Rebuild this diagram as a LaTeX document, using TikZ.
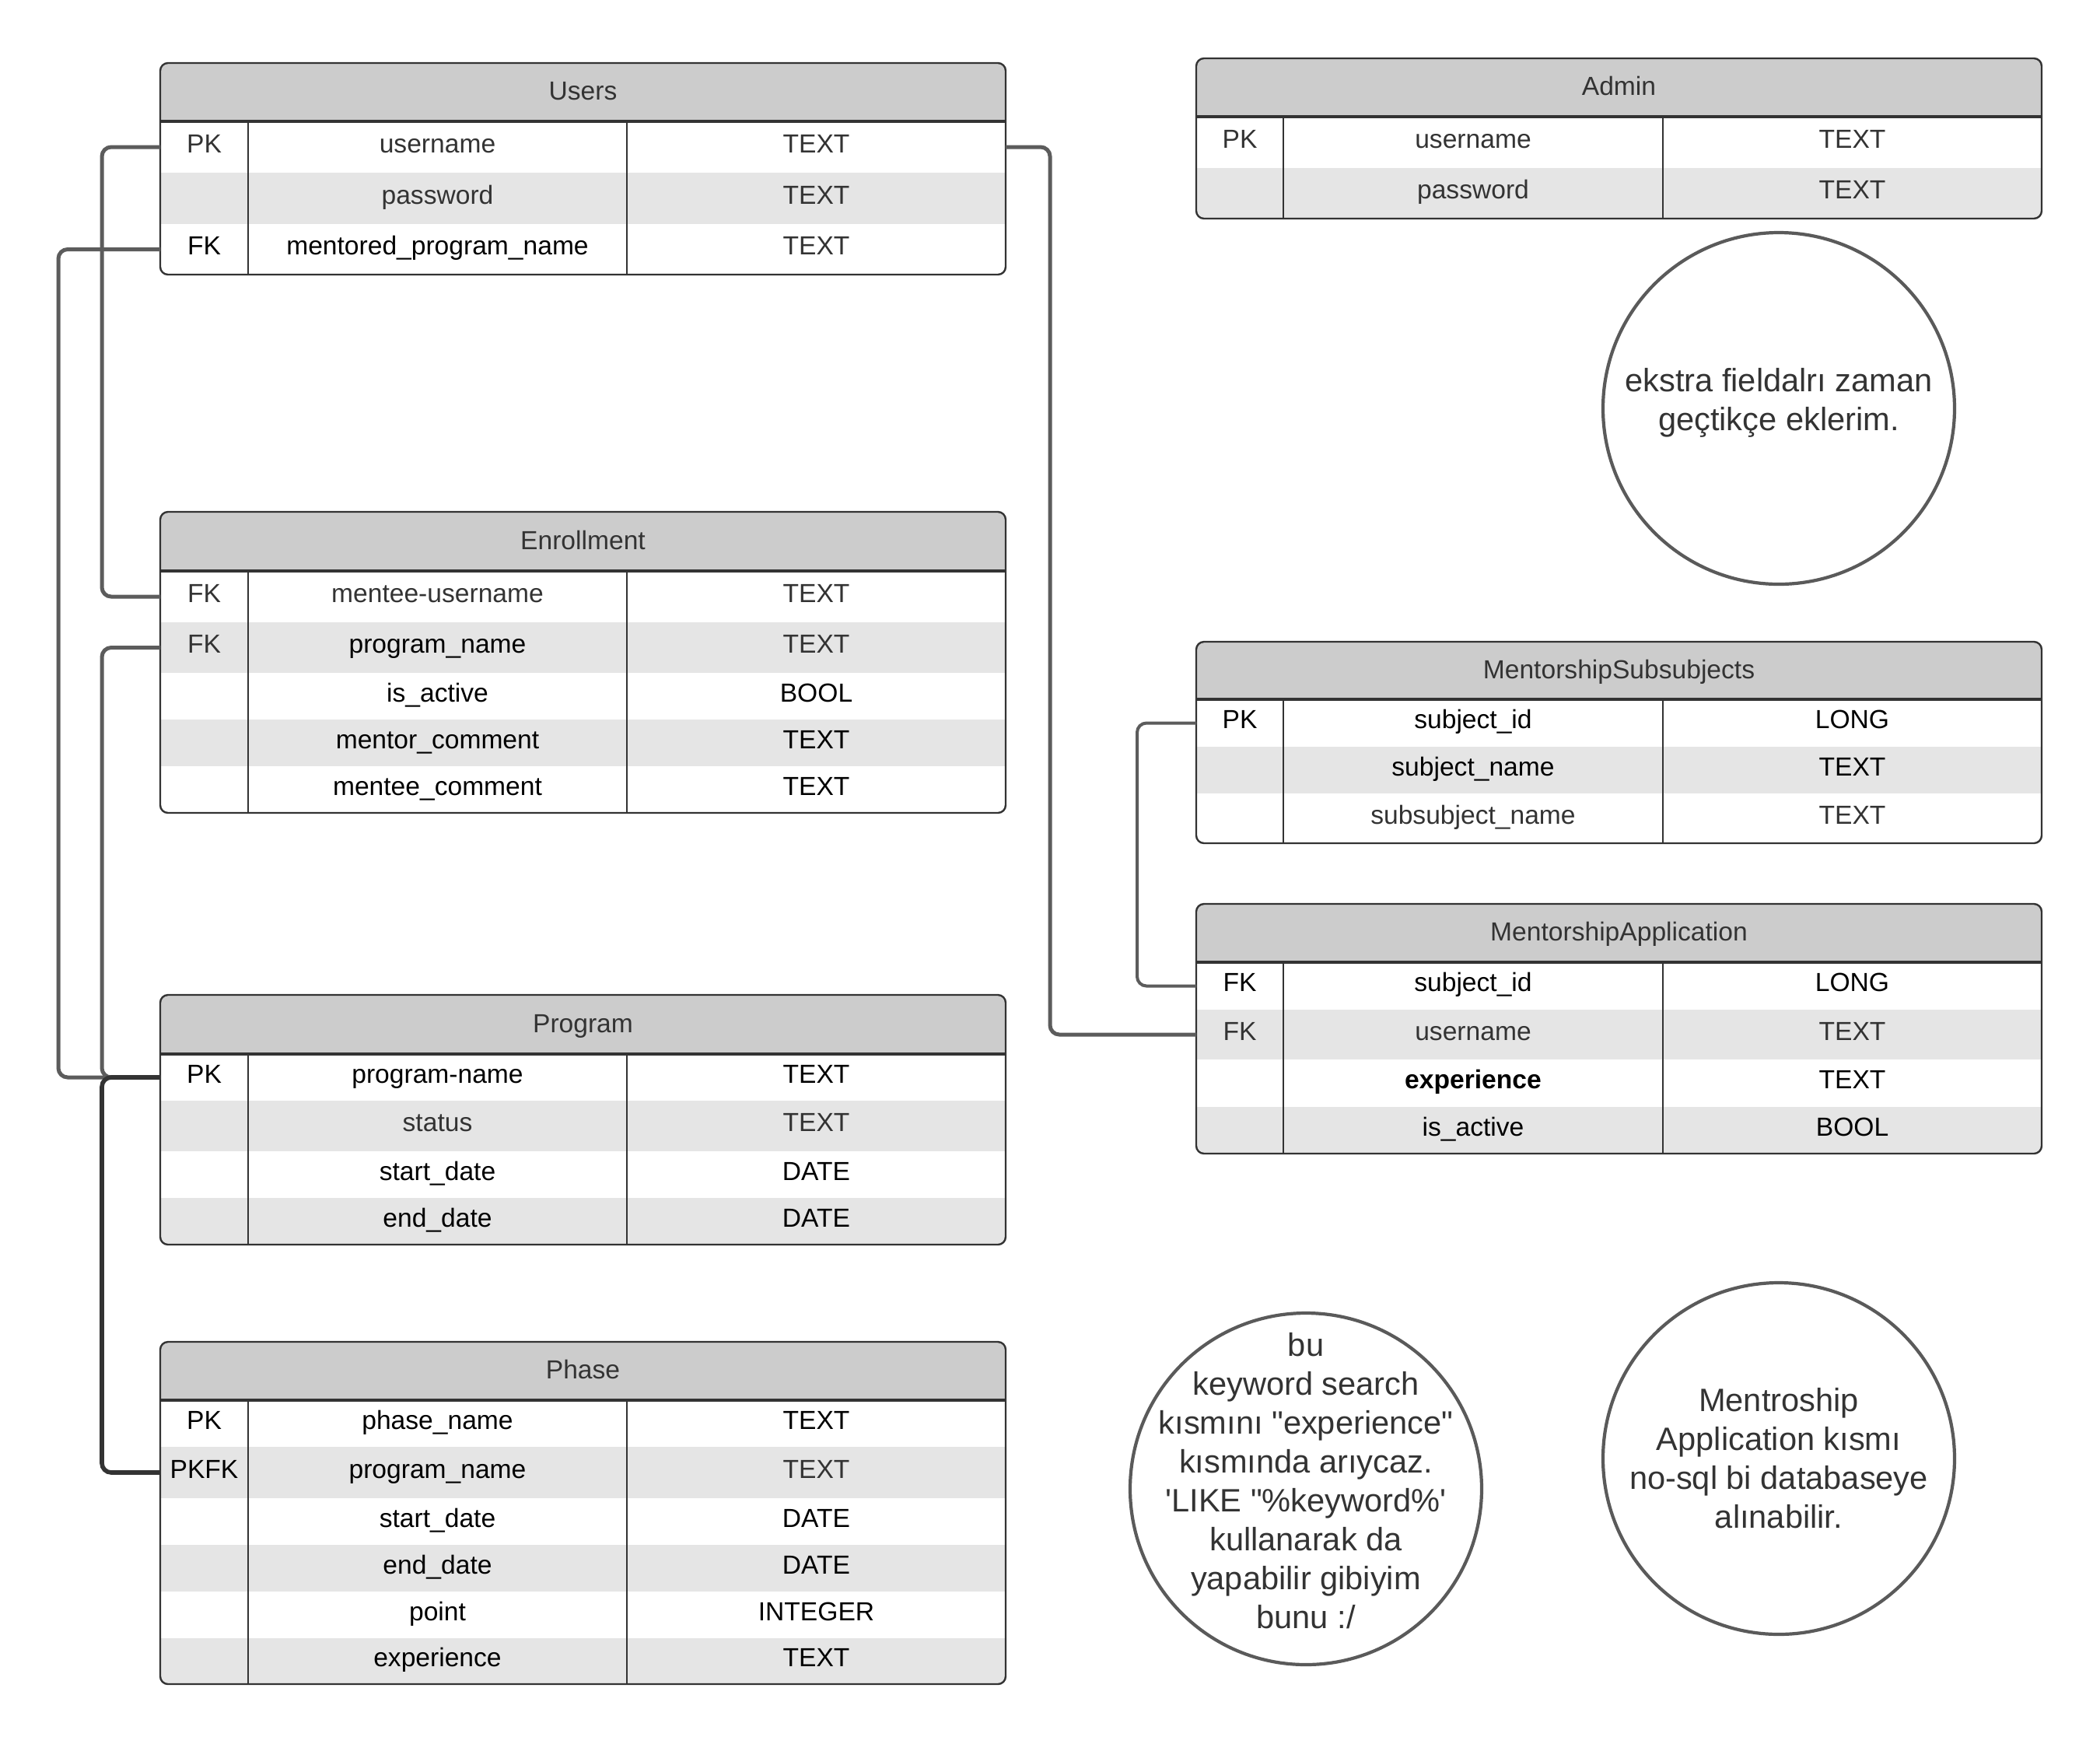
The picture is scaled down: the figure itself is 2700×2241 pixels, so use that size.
\documentclass[tikz,border=0pt]{standalone}
\usepackage{fontspec}
\setmainfont{Liberation Sans}
\definecolor{hdrfill}{HTML}{CCCCCC}
\definecolor{rowgray}{HTML}{E5E5E5}
\definecolor{bordc}{HTML}{333333}
\definecolor{txtgray}{HTML}{333333}
\definecolor{conngray}{HTML}{5C5C5C}
\definecolor{conndk}{HTML}{333333}
\definecolor{circc}{HTML}{5A5A5A}
\newcommand\tfont{\fontsize{8.4pt}{10pt}\selectfont}
\newcommand\cfont{\fontsize{10.4pt}{12.5pt}\selectfont}
\newcommand\gtx{\color{txtgray}}
% table start: #1 name, #2 title, #3 x0, #4 x1, #5 c1, #6 c2, #7 ytop, #8 yhead, #9 ybot
\newcommand\tbl[9]{%
  \def\Tx{#3}\def\TX{#4}\def\Ca{#5}\def\Cb{#6}\def\Ty{#7}\def\Tyh{#8}\def\Tyb{#9}%
  \begin{scope}
  \clip[rounded corners=2.5pt] (\Tx,\Ty) rectangle (\TX,\Tyb);
  \node[hdr, minimum width={(\TX-\Tx)*0.25pt}, minimum height={(\Tyh-\Ty)*0.25pt}]
     (#1) at ({(\Tx+\TX)/2},{(\Ty+\Tyh)/2}) {#2};
}
% row: #1 name, #2 ytop, #3 ybot, #4 fill, #5 key, #6 field, #7 type
\newcommand\trow[7]{%
  \node[rowbg, fill=#4, minimum width={(\TX-\Tx)*0.25pt}, minimum height={(#3-#2)*0.25pt}]
     (#1) at ({(\Tx+\TX)/2},{(#2+#3)/2}) {};
  \node[cell] (#1-k) at ({(\Tx+\Ca)/2},{(#2+#3)/2}) {#5};
  \node[cell] (#1-f) at ({(\Ca+\Cb)/2},{(#2+#3)/2}) {#6};
  \node[cell] (#1-t) at ({(\Cb+\TX)/2},{(#2+#3)/2}) {#7};
}
\newcommand\tblend{%
  \end{scope}
  \draw[tborder, rounded corners=2.5pt] (\Tx,\Ty) rectangle (\TX,\Tyb);
  \draw[hline] (\Tx,\Tyh) -- (\TX,\Tyh);
  \draw[vline] (\Ca,\Tyh) -- (\Ca,\Tyb);
  \draw[vline] (\Cb,\Tyh) -- (\Cb,\Tyb);
}
\begin{document}
\begin{tikzpicture}[x=0.25pt,y=-0.25pt,
  rowbg/.style={inner sep=0pt, outer sep=0pt, draw=none},
  hdr/.style={inner sep=0pt, outer sep=0pt, fill=hdrfill, text=txtgray, font=\tfont, text height=0.72em, text depth=0.21em},
  cell/.style={inner sep=0pt, outer sep=0pt, text height=0.72em, text depth=0.21em, font=\tfont, text=black, yshift=0.7pt},
  tborder/.style={draw=bordc, line width=0.6pt},
  hline/.style={draw=bordc, line width=0.8pt},
  vline/.style={draw=bordc, line width=0.45pt},
  conn/.style={draw=conngray, line width=1.25pt, rounded corners=3pt},
  conndark/.style={draw=conndk, line width=1.4pt, rounded corners=3pt},
  connthin/.style={draw=conngray, line width=1pt, rounded corners=3pt},
  notecirc/.style={circle, draw=circc, line width=1.05pt, minimum size=113pt, inner sep=0pt},
  notetext/.style={inner sep=0pt, align=center, font=\cfont, text=txtgray}
]
\fill[white] (0,0) rectangle (2700,2241);
\useasboundingbox (0,0) rectangle (2700,2241);

% Users
\tbl{users}{Users}{206}{1293}{319}{806}{81}{156}{353}
\trow{users-r1}{156}{222}{white}{\gtx PK}{\gtx username}{\gtx TEXT}
\trow{users-r2}{222}{288}{rowgray}{}{\gtx password}{\gtx TEXT}
\trow{users-r3}{288}{353}{white}{FK}{mentored\_program\_name}{\gtx TEXT}
\tblend

% Enrollment
\tbl{enr}{Enrollment}{206}{1293}{319}{806}{658}{734}{1045}
\trow{enr-r1}{734}{800}{white}{\gtx FK}{\gtx mentee-username}{\gtx TEXT}
\trow{enr-r2}{800}{865}{rowgray}{\gtx FK}{program\_name}{\gtx TEXT}
\trow{enr-r3}{865}{925}{white}{}{is\_active}{BOOL}
\trow{enr-r4}{925}{985}{rowgray}{}{mentor\_comment}{TEXT}
\trow{enr-r5}{985}{1045}{white}{}{mentee\_comment}{TEXT}
\tblend

% Program
\tbl{prog}{Program}{206}{1293}{319}{806}{1279}{1355}{1600}
\trow{prog-r1}{1355}{1415}{white}{PK}{program-name}{TEXT}
\trow{prog-r2}{1415}{1480}{rowgray}{}{\gtx status}{\gtx TEXT}
\trow{prog-r3}{1480}{1540}{white}{}{start\_date}{DATE}
\trow{prog-r4}{1540}{1600}{rowgray}{}{end\_date}{DATE}
\tblend

% Phase
\tbl{phase}{Phase}{206}{1293}{319}{806}{1725}{1800}{2165}
\trow{phase-r1}{1800}{1860}{white}{PK}{phase\_name}{TEXT}
\trow{phase-r2}{1860}{1926}{rowgray}{PKFK}{program\_name}{\gtx TEXT}
\trow{phase-r3}{1926}{1986}{white}{}{start\_date}{DATE}
\trow{phase-r4}{1986}{2046}{rowgray}{}{end\_date}{DATE}
\trow{phase-r5}{2046}{2106}{white}{}{point}{INTEGER}
\trow{phase-r6}{2106}{2165}{rowgray}{}{experience}{TEXT}
\tblend

% Admin
\tbl{admin}{Admin}{1538}{2625}{1650}{2138}{75}{150}{281}
\trow{admin-r1}{150}{216}{white}{\gtx PK}{\gtx username}{\gtx TEXT}
\trow{admin-r2}{216}{281}{rowgray}{}{\gtx password}{\gtx TEXT}
\tblend

% MentorshipSubsubjects
\tbl{ms}{MentorshipSubsubjects}{1538}{2625}{1650}{2138}{825}{899}{1084}
\trow{ms-r1}{899}{960}{white}{PK}{subject\_id}{LONG}
\trow{ms-r2}{960}{1020}{rowgray}{}{subject\_name}{TEXT}
\trow{ms-r3}{1020}{1084}{white}{}{\gtx subsubject\_name}{\gtx TEXT}
\tblend

% MentorshipApplication
\tbl{ma}{MentorshipApplication}{1538}{2625}{1650}{2138}{1162}{1237}{1483}
\trow{ma-r1}{1237}{1298}{white}{FK}{subject\_id}{LONG}
\trow{ma-r2}{1298}{1362}{rowgray}{\gtx FK}{\gtx username}{\gtx TEXT}
\trow{ma-r3}{1362}{1423}{white}{}{\textbf{experience}}{TEXT}
\trow{ma-r4}{1423}{1483}{rowgray}{}{is\_active}{BOOL}
\tblend

% connectors
\draw[conn] (users-r1.west) -- ++(-75,0) |- (enr-r1.west);
\draw[conn] (users-r3.west) -- ++(-131,0) |- (prog-r1.west);
\draw[conn] (enr-r2.west) -- ++(-75,0) |- (prog-r1.west);
\draw[conndark] (prog-r1.west) -- ++(-75,0) |- (phase-r2.west);
\draw[conn] (users-r1.east) -- ++(57,0) |- (ma-r2.west);
\draw[connthin] (ms-r1.west) -- ++(-76,0) |- (ma-r1.west);

% notes
\node[notecirc] (note1) at (2287,525) {};
\node[notetext] (note1-t) at (2287,518) {ekstra fieldalrı zaman\\geçtikçe eklerim.};
\node[notecirc] (note2) at (1679,1914) {};
\node[notetext] (note2-t) at (1679,1904) {bu\\keyword search\\kısmını \textquotedbl experience\textquotedbl\\kısmında arıycaz.\\\textquotesingle LIKE \textquotedbl\%keyword\%\textquotesingle\\kullanarak da\\yapabilir gibiyim\\bunu :/};
\node[notecirc] (note3) at (2287,1875) {};
\node[notetext] (note3-t) at (2287,1875) {Mentroship\\Application kısmı\\no-sql bi databaseye\\alınabilir.};
\end{tikzpicture}
\end{document}
